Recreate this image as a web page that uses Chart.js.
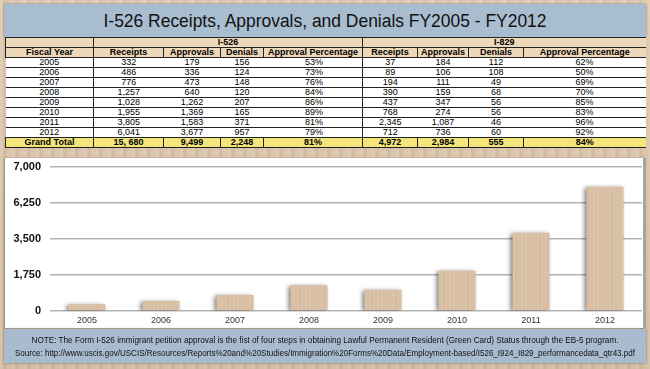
<!DOCTYPE html>
<html>
<head>
<meta charset="utf-8">
<script src="https://cdn.jsdelivr.net/npm/chart.js@4"></script>
<style>
  html, body { margin: 0; padding: 0; }
  body {
    width: 650px; height: 369px; position: relative; overflow: hidden;
    background-color: #d7c2a7;
    background-image:
      repeating-linear-gradient(90deg, rgba(255,255,255,0.10) 0 3px, rgba(0,0,0,0.03) 3px 7px, rgba(255,255,255,0.05) 7px 12px),
      linear-gradient(180deg, #dec9b0, #d2bb9f);
    font-family: 'Liberation Sans', Arial, sans-serif;
  }
  .fit { position: absolute; left: 50%; white-space: nowrap; transform-origin: center center; }
  #title {
    position: absolute; left: 4px; top: 4px; width: 642px; height: 33px;
    background: #a9bdd0; box-shadow: 0 0 2px rgba(0,0,0,0.4);
    line-height: 33px; font-size: 19px; color: #111;
  }
  #title .fit { top: 0; }
  #tbl {
    position: absolute; left: 5px; top: 37px; width: 640px;
    border-collapse: collapse; table-layout: fixed;
    font-size: 9px; color: #000;
  }
  #tbl td { height: 9px; line-height: 9px; padding: 0; text-align: center;
    border-top: 1px solid #222; overflow: hidden; white-space: nowrap; }
  #tbl tr.hd td { background: #eed8ba; font-weight: bold; border-left: 1px solid #222; }
  #tbl tr.dt td { background: #fff; }
  #tbl tr.dt td.sep { border-left: 1px solid #222; }
  #tbl tr.tot td { background: #f3e57c; font-weight: bold; border-left: 1px solid #222; border-bottom: 1px solid #222; }
  #panel {
    position: absolute; left: 5px; top: 158px; width: 638px; height: 170px;
    background: #fff; border-right: 3px solid #a5a5a5;
    box-shadow: -1px 0 2px rgba(0,0,0,0.3);
  }
  #panel canvas { position: absolute; left: 0; top: 0; }
  #note {
    position: absolute; left: 4px; top: 329px; width: 642px; height: 34px;
    background: #a9bccf; box-shadow: 0 0 2px rgba(0,0,0,0.4);
    font-size: 9.5px; color: #111; line-height: 13px;
  }
  #note .l1 { top: 4px; }
  #note .l2 { top: 17px; }
</style>
</head>
<body>
<div id="title"><span class="fit" data-w="443">I-526 Receipts, Approvals, and Denials FY2005 - FY2012</span></div>
<table id="tbl">
  <colgroup>
    <col style="width:88px"><col style="width:70px"><col style="width:57px"><col style="width:43px"><col style="width:99px">
    <col style="width:55px"><col style="width:51px"><col style="width:55px"><col style="width:122px">
  </colgroup>
  <tbody id="tbody"></tbody>
</table>
<div id="panel"><canvas id="chart" width="638" height="170"></canvas></div>
<div id="note"><span class="fit l1" data-w="587">NOTE: The Form I-526 immigrant petition approval is the fist of four steps in obtaining Lawful Permanent Resident (Green Card) Status through the EB-5 program.</span><span class="fit l2" data-w="620">Source: http://www.uscis.gov/USCIS/Resources/Reports%20and%20Studies/Immigration%20Forms%20Data/Employment-based/I526_I924_I829_performancedata_qtr43.pdf</span></div>
<script>
// Data
const years = ['2005', '2006', '2007', '2008', '2009', '2010', '2011', '2012'];
const i526Receipts = [332, 486, 776, 1257, 1028, 1955, 3805, 6041];
const i526Approvals = [179, 336, 473, 640, 1262, 1369, 1583, 3677];
const i526Denials = [156, 124, 148, 120, 207, 165, 371, 957];
const i526Pct = ['53%', '73%', '76%', '84%', '86%', '89%', '81%', '79%'];
const i829Receipts = [37, 89, 194, 390, 437, 768, 2345, 712];
const i829Approvals = [184, 106, 111, 159, 347, 274, 1087, 736];
const i829Denials = [112, 108, 49, 68, 56, 56, 46, 60];
const i829Pct = ['62%', '50%', '69%', '70%', '85%', '83%', '96%', '92%'];
const i526Totals = ['15, 680', '9,499', '2,248', '81%'];
const i829Totals = ['4,972', '2,984', '555', '84%'];
const colHeads = ['Receipts', 'Approvals', 'Denials', 'Approval Percentage'];
const yTickLabels = ['0', '1,750', '3,500', '6,250', '7,000'];

// squeeze text to the condensed widths of the original
document.querySelectorAll('.fit').forEach(el => {
  const w = el.getBoundingClientRect().width;
  el.style.transform = 'translateX(-50%) scaleX(' + (el.dataset.w / w) + ')';
});

// Table
const fmt = n => n.toLocaleString('en-US');
let html = '<tr class="hd"><td></td><td colspan="4">I-526</td><td colspan="4">I-829</td></tr>';
html += '<tr class="hd"><td>Fiscal Year</td>' + colHeads.concat(colHeads).map(h => '<td>' + h + '</td>').join('') + '</tr>';
years.forEach((y, i) => {
  html += '<tr class="dt"><td>' + y + '</td>' +
    '<td class="sep">' + fmt(i526Receipts[i]) + '</td><td>' + fmt(i526Approvals[i]) + '</td><td>' + fmt(i526Denials[i]) + '</td><td style="text-align:right;padding-right:39px">' + i526Pct[i] + '</td>' +
    '<td class="sep">' + fmt(i829Receipts[i]) + '</td><td>' + fmt(i829Approvals[i]) + '</td><td>' + fmt(i829Denials[i]) + '</td><td>' + i829Pct[i] + '</td></tr>';
});
html += '<tr class="tot"><td>Grand Total</td>' + i526Totals.concat(i829Totals).map(v => '<td>' + v + '</td>').join('') + '</tr>';
document.getElementById('tbody').innerHTML = html;

// Wood pattern for the bars
const pc = document.createElement('canvas');
pc.width = 12; pc.height = 4;
const px = pc.getContext('2d');
const stripes = ['#dbc2a7', '#d8bfa4', '#ddc5ab', '#d6bca1', '#dac1a6', '#d9c0a5'];
stripes.forEach((c, i) => { px.fillStyle = c; px.fillRect(i * 2, 0, 2, 4); });
const woodPattern = px.createPattern(pc, 'repeat');

const barShadow = {
  id: 'barShadow',
  beforeDatasetsDraw(chart) {
    const c = chart.ctx;
    c.save();
    c.shadowColor = 'rgba(0,0,0,0.5)';
    c.shadowBlur = 4;
    c.shadowOffsetX = -2;
    c.shadowOffsetY = 1;
  },
  afterDatasetsDraw(chart) { chart.ctx.restore(); }
};

new Chart(document.getElementById('chart'), {
  type: 'bar',
  data: {
    labels: years,
    datasets: [{
      data: i526Receipts,
      backgroundColor: woodPattern,
      borderWidth: 0,
      barPercentage: 0.5,
      categoryPercentage: 1.0
    }]
  },
  options: {
    responsive: false,
    animation: false,
    devicePixelRatio: 1,
    layout: { padding: { top: 0, right: 1, left: 0, bottom: 0 } },
    plugins: { legend: { display: false }, tooltip: { enabled: false } },
    scales: {
      x: {
        grid: { display: false, drawTicks: false },
        border: { display: false },
        ticks: { color: '#333', padding: 4, font: { family: 'Liberation Sans', size: 9 } },
        afterFit(s) { s.height = 17; }
      },
      y: {
        min: 0, max: 7000,
        grid: { color: '#b3b3b3', lineWidth: 1.5, drawTicks: false },
        border: { display: false },
        ticks: {
          stepSize: 1750, padding: 9, color: '#111',
          font: { family: 'Liberation Sans', size: 11, weight: 'bold' },
          callback: (v, i) => yTickLabels[i]
        },
        afterFit(s) { s.width = 45; s.paddingTop = 9; s.paddingBottom = 0; }
      }
    }
  },
  plugins: [barShadow]
});
</script>
</body>
</html>
